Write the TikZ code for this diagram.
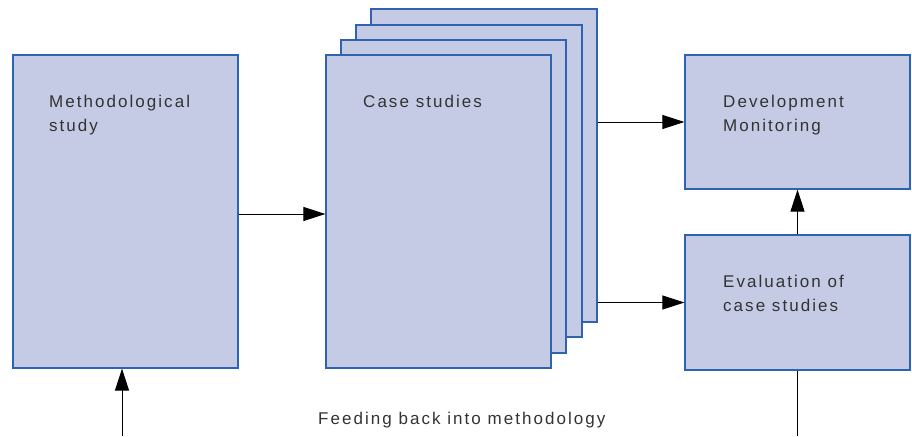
\documentclass[tikz,border=0pt]{standalone}
\usepackage{fontspec}
\setmainfont{Liberation Sans}[LetterSpace=12]
\usetikzlibrary{arrows.meta,calc}
\definecolor{boxfill}{HTML}{C5CAE5}
\definecolor{boxline}{HTML}{2F63B0}
\definecolor{txt}{HTML}{333333}
\tikzset{
  panel/.style={rectangle, draw=boxline, fill=boxfill, line width=1.2pt, inner sep=0pt},
  caption/.style={anchor=base west, inner sep=0pt, text=txt, font=\fontsize{17}{24}\selectfont, align=left},
  flow/.style={draw=black, line width=1pt, -{Triangle[length=22pt,width=14pt]}},
  plain/.style={draw=black, line width=1pt},
}
\begin{document}
\begin{tikzpicture}[x=1pt,y=-1pt]
  \useasboundingbox (0,0) rectangle (912,436);

  % left panel
  \node[panel, minimum width=225pt, minimum height=313pt] (meth) at (125.5,211.5) {};

  % stack of case-study sheets, back to front
  \node[panel, minimum width=226pt, minimum height=313pt] (cs4) at (484,165.5) {};
  \node[panel, minimum width=226pt, minimum height=312pt] (cs3) at (469,181) {};
  \node[panel, minimum width=225pt, minimum height=313pt] (cs2) at (453.5,196.5) {};
  \node[panel, minimum width=225pt, minimum height=313pt] (cs1) at (438.5,211.5) {};

  % right panels
  \node[panel, minimum width=225pt, minimum height=134pt] (dev) at (797.5,122) {};
  \node[panel, minimum width=225pt, minimum height=135pt] (eval) at (797.5,302.5) {};

  % captions (base anchor sits on the last line)
  \node[caption] (tmeth) at (49,131) {Methodological\\study};
  \node[caption] (tcs) at (363,107) {Case studies};
  \node[caption] (tdev) at (723,131) {Development\\Monitoring};
  \node[caption] (teval) at (723,311) {Evaluation of\\case studies};
  \node[caption] (tfeed) at (318,424) {Feeding back into methodology};

  % connectors
  \draw[flow] ([yshift=-2.5pt]meth.east) -- ([yshift=-2.5pt]meth.east -| cs1.west);
  \draw[flow] (cs4.east |- dev.west) -- (dev.west);
  \draw[flow] (cs4.east |- eval.west) -- (eval.west);
  \draw[flow] (eval.north) -- (dev.south);

  \coordinate (fbin) at (122,436);
  \coordinate (fbout) at (797.5,436);
  \draw[flow] (fbin) -- (fbin |- meth.south);
  \draw[plain] (eval.south) -- (fbout);
\end{tikzpicture}
\end{document}
